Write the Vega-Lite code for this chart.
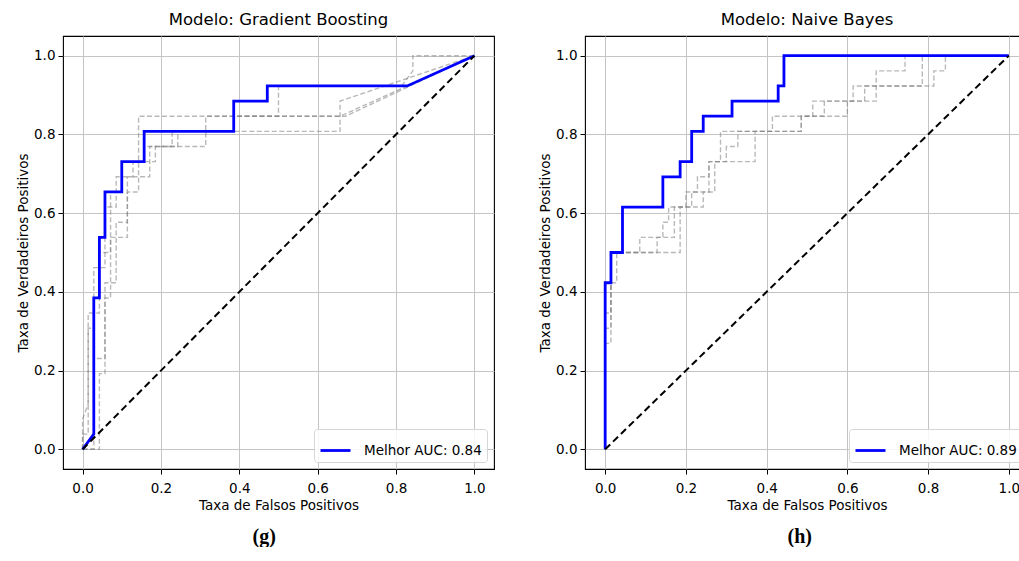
{
  "$schema": "https://vega.github.io/schema/vega-lite/v6.json",
  "padding": {"left": 15, "top": 10, "right": 0, "bottom": 0},
  "background": "#ffffff",
  "config": {
    "font": "DejaVu Sans",
    "view": {"stroke": "#000000", "strokeWidth": 1.1},
    "axis": {
      "domain": false,
      "grid": true,
      "gridColor": "#c4c4c4",
      "gridWidth": 1,
      "tickColor": "#000000",
      "tickSize": 5,
      "tickWidth": 1,
      "labelFont": "DejaVu Sans",
      "labelFontSize": 13.5,
      "labelColor": "#000000",
      "titleFont": "DejaVu Sans",
      "titleFontSize": 13.5,
      "titleFontWeight": "normal",
      "titleColor": "#000000"
    },
    "axisX": {"labelPadding": 7, "titlePadding": 4, "labelFlush": false},
    "axisY": {"labelPadding": 3, "titlePadding": 3, "labelFlush": false},
    "title": {"font": "DejaVu Sans", "fontSize": 16.5, "fontWeight": "normal", "color": "#000000", "offset": 8},
    "legend": {
      "orient": "bottom-right",
      "offset": 7,
      "symbolType": "stroke",
      "symbolSize": 900,
      "symbolStrokeWidth": 2.8,
      "labelFont": "DejaVu Sans",
      "labelFontSize": 13.5,
      "labelColor": "#000000",
      "labelOffset": 12,
      "strokeColor": "#d6d6d6",
      "fillColor": "rgba(255,255,255,0.85)",
      "padding": 5,
      "cornerRadius": 3
    }
  },
  "datasets": {
    "gb": [
      {"c": "best", "i": 0, "x": 0, "y": 0},
      {"c": "best", "i": 1, "x": 0.0286, "y": 0.0385},
      {"c": "best", "i": 2, "x": 0.0286, "y": 0.3846},
      {"c": "best", "i": 3, "x": 0.0429, "y": 0.3846},
      {"c": "best", "i": 4, "x": 0.0429, "y": 0.5385},
      {"c": "best", "i": 5, "x": 0.0571, "y": 0.5385},
      {"c": "best", "i": 6, "x": 0.0571, "y": 0.6538},
      {"c": "best", "i": 7, "x": 0.1, "y": 0.6538},
      {"c": "best", "i": 8, "x": 0.1, "y": 0.7308},
      {"c": "best", "i": 9, "x": 0.1571, "y": 0.7308},
      {"c": "best", "i": 10, "x": 0.1571, "y": 0.8077},
      {"c": "best", "i": 11, "x": 0.3857, "y": 0.8077},
      {"c": "best", "i": 12, "x": 0.3857, "y": 0.8846},
      {"c": "best", "i": 13, "x": 0.4714, "y": 0.8846},
      {"c": "best", "i": 14, "x": 0.4714, "y": 0.9231},
      {"c": "best", "i": 15, "x": 0.8286, "y": 0.9231},
      {"c": "best", "i": 16, "x": 1, "y": 1},

      {"c": "g1", "i": 0, "x": 0, "y": 0},
      {"c": "g1", "i": 1, "x": 0.0429, "y": 0},
      {"c": "g1", "i": 2, "x": 0.0429, "y": 0.1923},
      {"c": "g1", "i": 3, "x": 0.0571, "y": 0.1923},
      {"c": "g1", "i": 4, "x": 0.0571, "y": 0.3846},
      {"c": "g1", "i": 5, "x": 0.0714, "y": 0.3846},
      {"c": "g1", "i": 6, "x": 0.0714, "y": 0.5385},
      {"c": "g1", "i": 7, "x": 0.1143, "y": 0.5385},
      {"c": "g1", "i": 8, "x": 0.1143, "y": 0.6538},
      {"c": "g1", "i": 9, "x": 0.1429, "y": 0.6538},
      {"c": "g1", "i": 10, "x": 0.1429, "y": 0.8462},
      {"c": "g1", "i": 11, "x": 0.6571, "y": 0.8462},
      {"c": "g1", "i": 12, "x": 1, "y": 1},

      {"c": "g2", "i": 0, "x": 0, "y": 0},
      {"c": "g2", "i": 1, "x": 0, "y": 0.0769},
      {"c": "g2", "i": 2, "x": 0.0143, "y": 0.1154},
      {"c": "g2", "i": 3, "x": 0.0143, "y": 0.3077},
      {"c": "g2", "i": 4, "x": 0.0286, "y": 0.3077},
      {"c": "g2", "i": 5, "x": 0.0286, "y": 0.4615},
      {"c": "g2", "i": 6, "x": 0.0571, "y": 0.4615},
      {"c": "g2", "i": 7, "x": 0.0571, "y": 0.6154},
      {"c": "g2", "i": 8, "x": 0.0857, "y": 0.6154},
      {"c": "g2", "i": 9, "x": 0.0857, "y": 0.6923},
      {"c": "g2", "i": 10, "x": 0.1286, "y": 0.6923},
      {"c": "g2", "i": 11, "x": 0.1286, "y": 0.7308},
      {"c": "g2", "i": 12, "x": 0.1857, "y": 0.7308},
      {"c": "g2", "i": 13, "x": 0.1857, "y": 0.7692},
      {"c": "g2", "i": 14, "x": 0.2286, "y": 0.7692},
      {"c": "g2", "i": 15, "x": 0.2286, "y": 0.8077},
      {"c": "g2", "i": 16, "x": 0.6571, "y": 0.8077},
      {"c": "g2", "i": 17, "x": 0.6571, "y": 0.8846},
      {"c": "g2", "i": 18, "x": 1, "y": 1},

      {"c": "g3", "i": 0, "x": 0, "y": 0},
      {"c": "g3", "i": 1, "x": 0.0286, "y": 0},
      {"c": "g3", "i": 2, "x": 0.0286, "y": 0.2308},
      {"c": "g3", "i": 3, "x": 0.0571, "y": 0.2308},
      {"c": "g3", "i": 4, "x": 0.0571, "y": 0.4231},
      {"c": "g3", "i": 5, "x": 0.0857, "y": 0.4231},
      {"c": "g3", "i": 6, "x": 0.0857, "y": 0.5769},
      {"c": "g3", "i": 7, "x": 0.1143, "y": 0.5769},
      {"c": "g3", "i": 8, "x": 0.1143, "y": 0.6923},
      {"c": "g3", "i": 9, "x": 0.1714, "y": 0.6923},
      {"c": "g3", "i": 10, "x": 0.1714, "y": 0.7692},
      {"c": "g3", "i": 11, "x": 0.2429, "y": 0.7692},
      {"c": "g3", "i": 12, "x": 0.2429, "y": 0.8077},
      {"c": "g3", "i": 13, "x": 0.3857, "y": 0.8077},
      {"c": "g3", "i": 14, "x": 0.3857, "y": 0.8462},
      {"c": "g3", "i": 15, "x": 0.5, "y": 0.8462},
      {"c": "g3", "i": 16, "x": 0.5, "y": 0.9231},
      {"c": "g3", "i": 17, "x": 0.8143, "y": 0.9231},
      {"c": "g3", "i": 18, "x": 0.8429, "y": 0.9615},
      {"c": "g3", "i": 19, "x": 0.8429, "y": 1},
      {"c": "g3", "i": 20, "x": 1, "y": 1},

      {"c": "g4", "i": 0, "x": 0, "y": 0},
      {"c": "g4", "i": 1, "x": 0, "y": 0.0385},
      {"c": "g4", "i": 2, "x": 0.0143, "y": 0.0385},
      {"c": "g4", "i": 3, "x": 0.0143, "y": 0.3462},
      {"c": "g4", "i": 4, "x": 0.0429, "y": 0.3462},
      {"c": "g4", "i": 5, "x": 0.0429, "y": 0.5},
      {"c": "g4", "i": 6, "x": 0.0714, "y": 0.5},
      {"c": "g4", "i": 7, "x": 0.0714, "y": 0.6538},
      {"c": "g4", "i": 8, "x": 0.1, "y": 0.6538},
      {"c": "g4", "i": 9, "x": 0.1, "y": 0.7308},
      {"c": "g4", "i": 10, "x": 0.1571, "y": 0.7308},
      {"c": "g4", "i": 11, "x": 0.1571, "y": 0.7692},
      {"c": "g4", "i": 12, "x": 0.3143, "y": 0.7692},
      {"c": "g4", "i": 13, "x": 0.3143, "y": 0.8462},
      {"c": "g4", "i": 14, "x": 0.6714, "y": 0.8462},
      {"c": "g4", "i": 15, "x": 1, "y": 1}
    ],
    "nb": [
      {"c": "best", "i": 0, "x": 0, "y": 0},
      {"c": "best", "i": 1, "x": 0, "y": 0.4231},
      {"c": "best", "i": 2, "x": 0.0143, "y": 0.4231},
      {"c": "best", "i": 3, "x": 0.0143, "y": 0.5},
      {"c": "best", "i": 4, "x": 0.0429, "y": 0.5},
      {"c": "best", "i": 5, "x": 0.0429, "y": 0.6154},
      {"c": "best", "i": 6, "x": 0.1429, "y": 0.6154},
      {"c": "best", "i": 7, "x": 0.1429, "y": 0.6923},
      {"c": "best", "i": 8, "x": 0.1857, "y": 0.6923},
      {"c": "best", "i": 9, "x": 0.1857, "y": 0.7308},
      {"c": "best", "i": 10, "x": 0.2143, "y": 0.7308},
      {"c": "best", "i": 11, "x": 0.2143, "y": 0.8077},
      {"c": "best", "i": 12, "x": 0.2429, "y": 0.8077},
      {"c": "best", "i": 13, "x": 0.2429, "y": 0.8462},
      {"c": "best", "i": 14, "x": 0.3143, "y": 0.8462},
      {"c": "best", "i": 15, "x": 0.3143, "y": 0.8846},
      {"c": "best", "i": 16, "x": 0.4286, "y": 0.8846},
      {"c": "best", "i": 17, "x": 0.4286, "y": 0.9231},
      {"c": "best", "i": 18, "x": 0.4429, "y": 0.9231},
      {"c": "best", "i": 19, "x": 0.4429, "y": 1},
      {"c": "best", "i": 20, "x": 1, "y": 1},

      {"c": "r1", "i": 0, "x": 0, "y": 0},
      {"c": "r1", "i": 1, "x": 0, "y": 0.3077},
      {"c": "r1", "i": 2, "x": 0.0143, "y": 0.3077},
      {"c": "r1", "i": 3, "x": 0.0143, "y": 0.5},
      {"c": "r1", "i": 4, "x": 0.1857, "y": 0.5},
      {"c": "r1", "i": 5, "x": 0.1857, "y": 0.6154},
      {"c": "r1", "i": 6, "x": 0.2429, "y": 0.6154},
      {"c": "r1", "i": 7, "x": 0.2429, "y": 0.6538},
      {"c": "r1", "i": 8, "x": 0.2714, "y": 0.6538},
      {"c": "r1", "i": 9, "x": 0.2714, "y": 0.7308},
      {"c": "r1", "i": 10, "x": 0.3714, "y": 0.7308},
      {"c": "r1", "i": 11, "x": 0.3714, "y": 0.8077},
      {"c": "r1", "i": 12, "x": 0.4857, "y": 0.8077},
      {"c": "r1", "i": 13, "x": 0.4857, "y": 0.8462},
      {"c": "r1", "i": 14, "x": 0.5429, "y": 0.8462},
      {"c": "r1", "i": 15, "x": 0.5429, "y": 0.8846},
      {"c": "r1", "i": 16, "x": 0.6429, "y": 0.8846},
      {"c": "r1", "i": 17, "x": 0.6429, "y": 0.9231},
      {"c": "r1", "i": 18, "x": 0.8143, "y": 0.9231},
      {"c": "r1", "i": 19, "x": 0.8143, "y": 0.9615},
      {"c": "r1", "i": 20, "x": 0.8429, "y": 0.9615},
      {"c": "r1", "i": 21, "x": 0.8429, "y": 1},
      {"c": "r1", "i": 22, "x": 1, "y": 1},

      {"c": "r2", "i": 0, "x": 0, "y": 0},
      {"c": "r2", "i": 1, "x": 0, "y": 0.2692},
      {"c": "r2", "i": 2, "x": 0.0143, "y": 0.2692},
      {"c": "r2", "i": 3, "x": 0.0143, "y": 0.4231},
      {"c": "r2", "i": 4, "x": 0.0286, "y": 0.4231},
      {"c": "r2", "i": 5, "x": 0.0286, "y": 0.5},
      {"c": "r2", "i": 6, "x": 0.0857, "y": 0.5},
      {"c": "r2", "i": 7, "x": 0.0857, "y": 0.5385},
      {"c": "r2", "i": 8, "x": 0.1714, "y": 0.5385},
      {"c": "r2", "i": 9, "x": 0.1714, "y": 0.6154},
      {"c": "r2", "i": 10, "x": 0.2143, "y": 0.6154},
      {"c": "r2", "i": 11, "x": 0.2143, "y": 0.6538},
      {"c": "r2", "i": 12, "x": 0.2286, "y": 0.6538},
      {"c": "r2", "i": 13, "x": 0.2286, "y": 0.6923},
      {"c": "r2", "i": 14, "x": 0.2571, "y": 0.6923},
      {"c": "r2", "i": 15, "x": 0.2571, "y": 0.7308},
      {"c": "r2", "i": 16, "x": 0.2857, "y": 0.7308},
      {"c": "r2", "i": 17, "x": 0.2857, "y": 0.8077},
      {"c": "r2", "i": 18, "x": 0.4143, "y": 0.8077},
      {"c": "r2", "i": 19, "x": 0.4143, "y": 0.8462},
      {"c": "r2", "i": 20, "x": 0.5143, "y": 0.8462},
      {"c": "r2", "i": 21, "x": 0.5143, "y": 0.8846},
      {"c": "r2", "i": 22, "x": 0.6143, "y": 0.8846},
      {"c": "r2", "i": 23, "x": 0.6143, "y": 0.9231},
      {"c": "r2", "i": 24, "x": 0.7857, "y": 0.9231},
      {"c": "r2", "i": 25, "x": 0.7857, "y": 1},
      {"c": "r2", "i": 26, "x": 1, "y": 1},

      {"c": "r3", "i": 0, "x": 0, "y": 0},
      {"c": "r3", "i": 1, "x": 0, "y": 0.3462},
      {"c": "r3", "i": 2, "x": 0.0143, "y": 0.3462},
      {"c": "r3", "i": 3, "x": 0.0143, "y": 0.5},
      {"c": "r3", "i": 4, "x": 0.1286, "y": 0.5},
      {"c": "r3", "i": 5, "x": 0.1286, "y": 0.5385},
      {"c": "r3", "i": 6, "x": 0.1429, "y": 0.5385},
      {"c": "r3", "i": 7, "x": 0.1429, "y": 0.5769},
      {"c": "r3", "i": 8, "x": 0.1571, "y": 0.5769},
      {"c": "r3", "i": 9, "x": 0.1571, "y": 0.6154},
      {"c": "r3", "i": 10, "x": 0.2, "y": 0.6154},
      {"c": "r3", "i": 11, "x": 0.2, "y": 0.6538},
      {"c": "r3", "i": 12, "x": 0.2571, "y": 0.6538},
      {"c": "r3", "i": 13, "x": 0.2571, "y": 0.7308},
      {"c": "r3", "i": 14, "x": 0.3, "y": 0.7308},
      {"c": "r3", "i": 15, "x": 0.3, "y": 0.7692},
      {"c": "r3", "i": 16, "x": 0.3286, "y": 0.7692},
      {"c": "r3", "i": 17, "x": 0.3286, "y": 0.8077},
      {"c": "r3", "i": 18, "x": 0.4857, "y": 0.8077},
      {"c": "r3", "i": 19, "x": 0.4857, "y": 0.8462},
      {"c": "r3", "i": 20, "x": 0.6, "y": 0.8462},
      {"c": "r3", "i": 21, "x": 0.6, "y": 0.8846},
      {"c": "r3", "i": 22, "x": 0.6714, "y": 0.8846},
      {"c": "r3", "i": 23, "x": 0.6714, "y": 0.9615},
      {"c": "r3", "i": 24, "x": 0.7429, "y": 0.9615},
      {"c": "r3", "i": 25, "x": 0.7429, "y": 1},
      {"c": "r3", "i": 26, "x": 1, "y": 1}
    ],
    "chance": [
      {"x": 0, "y": 0},
      {"x": 1, "y": 1}
    ]
  },
  "spacing": 42,
  "resolve": {"scale": {"color": "independent"}, "legend": {"color": "independent"}},
  "hconcat": [
    {
      "title": {"text": "(g)", "orient": "bottom", "anchor": "middle", "frame": "bounds", "font": "Liberation Serif", "fontSize": 20, "fontWeight": "bold", "offset": 14, "dx": 9},
      "resolve": {"scale": {"color": "independent"}, "legend": {"color": "independent"}},
      "vconcat": [
        {
          "width": 431,
          "height": 433,
          "title": "Modelo: Gradient Boosting",
          "layer": [
            {
              "data": {"name": "gb"},
              "transform": [{"filter": "datum.c != 'best'"}],
              "mark": {"type": "line", "color": "#808080", "opacity": 0.55, "strokeWidth": 1.4, "strokeDash": [5, 2.5]},
              "encoding": {
                "x": {"field": "x", "type": "quantitative", "scale": {"domain": [-0.05, 1.05], "nice": false, "zero": false},
                      "axis": {"title": "Taxa de Falsos Positivos", "values": [0, 0.2, 0.4, 0.6, 0.8, 1], "format": ".1f"}},
                "y": {"field": "y", "type": "quantitative", "scale": {"domain": [-0.05, 1.05], "nice": false, "zero": false},
                      "axis": {"title": "Taxa de Verdadeiros Positivos", "values": [0, 0.2, 0.4, 0.6, 0.8, 1], "format": ".1f"}},
                "detail": {"field": "c"},
                "order": {"field": "i"}
              }
            },
            {
              "data": {"name": "gb"},
              "transform": [{"filter": "datum.c == 'best'"}],
              "mark": {"type": "line", "strokeWidth": 2.8},
              "encoding": {
                "x": {"field": "x", "type": "quantitative"},
                "y": {"field": "y", "type": "quantitative"},
                "order": {"field": "i"},
                "color": {"datum": "Melhor AUC: 0.84", "scale": {"range": ["#0000ff"]}, "legend": {"title": null, "orient": "bottom-right"}}
              }
            },
            {
              "data": {"name": "chance"},
              "mark": {"type": "line", "color": "#000000", "strokeWidth": 2, "strokeDash": [7, 4]},
              "encoding": {
                "x": {"field": "x", "type": "quantitative"},
                "y": {"field": "y", "type": "quantitative"}
              }
            }
          ]
        }
      ]
    },
    {
      "title": {"text": "(h)", "orient": "bottom", "anchor": "middle", "frame": "bounds", "font": "Liberation Serif", "fontSize": 20, "fontWeight": "bold", "offset": 14, "dx": 16},
      "resolve": {"scale": {"color": "independent"}, "legend": {"color": "independent"}},
      "vconcat": [
        {
          "width": 444,
          "height": 433,
          "title": "Modelo: Naive Bayes",
          "layer": [
            {
              "data": {"name": "nb"},
              "transform": [{"filter": "datum.c != 'best'"}],
              "mark": {"type": "line", "color": "#808080", "opacity": 0.55, "strokeWidth": 1.4, "strokeDash": [5, 2.5]},
              "encoding": {
                "x": {"field": "x", "type": "quantitative", "scale": {"domain": [-0.05, 1.05], "nice": false, "zero": false},
                      "axis": {"title": "Taxa de Falsos Positivos", "values": [0, 0.2, 0.4, 0.6, 0.8, 1], "format": ".1f"}},
                "y": {"field": "y", "type": "quantitative", "scale": {"domain": [-0.05, 1.05], "nice": false, "zero": false},
                      "axis": {"title": "Taxa de Verdadeiros Positivos", "values": [0, 0.2, 0.4, 0.6, 0.8, 1], "format": ".1f"}},
                "detail": {"field": "c"},
                "order": {"field": "i"}
              }
            },
            {
              "data": {"name": "nb"},
              "transform": [{"filter": "datum.c == 'best'"}],
              "mark": {"type": "line", "strokeWidth": 2.8},
              "encoding": {
                "x": {"field": "x", "type": "quantitative"},
                "y": {"field": "y", "type": "quantitative"},
                "order": {"field": "i"},
                "color": {"datum": "Melhor AUC: 0.89", "scale": {"range": ["#0000ff"]}, "legend": {"title": null, "orient": "bottom-right"}}
              }
            },
            {
              "data": {"name": "chance"},
              "mark": {"type": "line", "color": "#000000", "strokeWidth": 2, "strokeDash": [7, 4]},
              "encoding": {
                "x": {"field": "x", "type": "quantitative"},
                "y": {"field": "y", "type": "quantitative"}
              }
            }
          ]
        }
      ]
    }
  ]
}
